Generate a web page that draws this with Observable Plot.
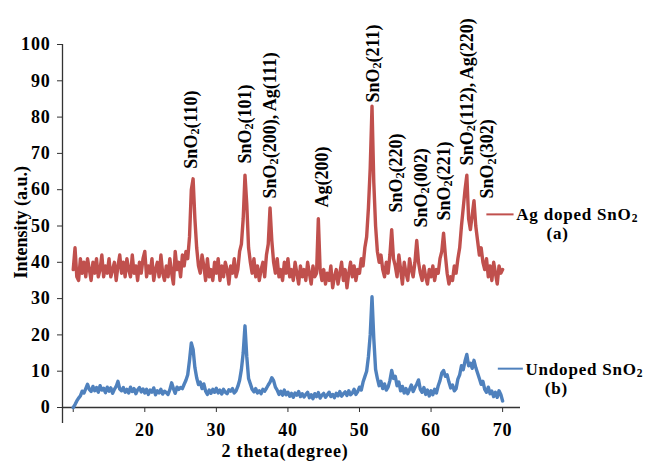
<!DOCTYPE html>
<html>
<head>
<meta charset="utf-8">
<script src="https://cdn.jsdelivr.net/npm/d3@7"></script>
<script src="https://cdn.jsdelivr.net/npm/@observablehq/plot@0.6"></script>
<style>
  html, body { margin: 0; padding: 0; background: #fff; }
  #chart svg { display: block; }
  #chart svg g[aria-label="y-axis tick label"] text,
  #chart svg g[aria-label="x-axis tick label"] text { letter-spacing: 0.8px; }
  #chart svg .wide text { letter-spacing: 0.8px; }
</style>
</head>
<body>
<div id="chart"></div>
<script>
// 2θ sampling grid of the scans (degrees)
const scanStart = 10.0;
const scanStep = 0.25;

// Ag doped SnO2 (a) – intensity, 10.00° … 70.00°
const agDoped = [
  38, 44, 36, 35, 41, 37, 40, 36, 41, 38, 35, 40, 37, 41, 36, 38, 42, 36, 39, 37,
  41, 36, 38, 40, 35, 39, 42, 37, 40, 36, 41, 38, 36, 42, 37, 39, 35, 40, 37, 41,
  43, 36, 39, 37, 41, 35, 38, 40, 36, 42, 37, 35, 39, 36, 41, 37, 34, 43, 38, 40,
  36, 42, 39, 43, 41, 47, 60, 63, 52, 44, 39, 37, 42, 39, 35, 41, 36, 38, 35, 40,
  37, 41, 35, 39, 36, 40, 38, 34, 39, 37, 41, 36, 38, 43, 45, 52, 64, 56, 44, 40,
  37, 41, 36, 39, 35, 38, 40, 36, 42, 45, 55, 46, 40, 37, 41, 36, 38, 35, 40, 37,
  41, 36, 38, 35, 40, 37, 34, 39, 36, 38, 35, 40, 37, 34, 39, 36, 37, 52, 38, 35,
  38, 34, 37, 35, 39, 33, 36, 38, 34, 37, 40, 35, 38, 33, 37, 40, 36, 39, 35, 38,
  37, 41, 39, 44, 47, 55, 66, 83, 62, 50, 43, 40, 42, 38, 36, 40, 37, 42, 49, 41,
  39, 36, 42, 38, 34, 40, 37, 35, 41, 38, 36, 40, 46, 40, 37, 35, 39, 36, 34, 38,
  36, 39, 35, 38, 37, 41, 43, 48, 42, 37, 34, 36, 35, 39, 37, 41, 44, 50, 55, 60,
  64, 52, 49, 53, 57, 50, 46, 42, 44, 40, 38, 41, 36, 39, 35, 40, 37, 34, 39, 37,
  38
];

// Undoped SnO2 (b) – intensity, 10.00° … 70.00°
const undoped = [
  0, 0.8, 1.8, 2.6, 3.2, 4.5, 4.0, 5.2, 6.4, 5.0, 4.4, 5.8, 4.6, 5.5, 4.2, 6.0, 4.8, 5.3, 4.1, 5.6,
  4.5, 5.4, 3.9, 5.0, 5.8, 7.2, 5.1, 4.6, 5.5, 4.2, 5.0, 4.0, 5.6, 4.4, 5.2, 3.8, 4.9, 5.5, 4.3, 5.1,
  4.0, 5.0, 3.6, 4.8, 4.2, 5.4, 3.5, 4.6, 4.0, 5.0, 3.7, 4.5, 4.1, 3.6, 4.9, 6.8, 5.2, 3.9, 5.6, 5.0,
  5.5, 5.2, 6.4, 7.5, 9.0, 13.0, 17.8, 16.0, 11.0, 8.2, 6.3, 7.0, 5.2, 6.5, 4.5, 3.6, 4.8, 3.9, 5.0, 4.2,
  5.3, 4.0, 4.8, 3.7, 5.0, 4.2, 3.8, 4.9, 4.5, 5.2, 4.0, 4.6, 5.8, 7.5, 10.5, 15.0, 22.5, 14.0, 8.0, 6.5,
  5.0, 4.3, 5.2, 4.0, 4.6, 3.8, 5.0, 4.5, 5.3, 6.2, 7.0, 8.2, 7.4, 5.6, 4.8, 3.6, 4.5, 3.4, 4.8, 3.5,
  4.2, 3.1, 3.9, 2.8, 4.0, 3.4, 4.4, 3.0, 3.8, 2.9, 3.6, 4.2, 2.7, 3.5, 2.4, 3.8, 3.0, 4.1, 2.6, 3.4,
  3.9, 2.8, 3.5, 4.2, 3.0, 3.6, 2.7, 3.9, 3.2, 4.4, 3.1, 3.8, 4.3, 3.3, 4.6, 3.5, 4.0, 5.0, 3.6, 4.4,
  5.6, 4.8, 7.0, 8.5, 10.0, 14.0, 20.0, 30.5, 19.0, 10.5, 8.0, 6.0, 7.2, 5.2, 6.5, 4.8, 5.6, 7.4, 10.2, 8.0,
  8.6, 6.0, 7.0, 4.6, 5.8, 4.0, 5.2, 3.8, 5.0, 6.2, 4.4, 5.5, 6.4, 7.6, 5.0, 4.2, 5.5, 3.6, 4.8, 3.2,
  4.6, 3.5, 5.0, 4.0, 6.0, 7.4, 9.5, 10.2, 8.6, 9.0, 7.0, 5.4, 6.2, 4.6, 5.2, 7.8, 9.0, 11.5, 10.4, 12.8,
  14.6, 11.5, 12.2, 10.8, 13.0, 11.0, 9.5, 8.0, 6.4, 7.2, 5.0, 4.2, 5.6, 3.8, 4.5, 3.0, 4.2, 2.8, 4.6, 3.6,
  1.8
];

// Peak annotations: label, 2θ position, intensity at the label's foot
const peakNames = ["SnO2(110)", "SnO2(101)", "SnO2(200), Ag(111)", "Ag(200)", "SnO2(211)",
                   "SnO2(220)", "SnO2(002)", "SnO2(221)", "SnO2(112), Ag(220)", "SnO2(302)"];
const peakTheta = [26.5, 34.0, 37.5, 44.8, 51.9, 55.1, 58.6, 61.8, 65.0, 67.9];
const peakLabelIntensity = [65.8, 67.2, 57.6, 55.1, 84.0, 53.7, 49.6, 51.5, 66.7, 57.6];

// Axis ticks
const xTicks = [10, 20, 30, 40, 50, 60, 70];
const xTickLabels = ["", "20", "30", "40", "50", "60", "70"];
const yTicks = [0, 10, 20, 30, 40, 50, 60, 70, 80, 90, 100];

// Series names
const seriesNames = ["Ag doped SnO2", "Undoped SnO2"];
const seriesTags = ["(a)", "(b)"];

const redRows = agDoped.map((v, i) => ({theta: scanStart + i * scanStep, I: v}));
const blueRows = undoped.map((v, i) => ({theta: scanStart + i * scanStep, I: v}));
const peaks = peakNames.map((n, i) => ({name: n, theta: peakTheta[i], I: peakLabelIntensity[i]}));

const RED = "#C0504D", BLUE = "#4F81BD", AXIS = "#333";
const font = "'Liberation Serif', 'Times New Roman', serif";

const plot = Plot.plot({
  width: 658,
  height: 462,
  marginLeft: 62,
  marginRight: 138,
  marginTop: 44,
  marginBottom: 55,
  x: {domain: [8.5, 72.5]},
  y: {domain: [0, 100]},
  style: {fontFamily: font, fontWeight: "bold", fontSize: "18px", color: "#000", background: "#fff"},
  marks: [
    Plot.axisY({ticks: yTicks, tickSize: 5, tickPadding: 7, label: null, stroke: AXIS, fontSize: 18}),
    Plot.axisX({ticks: xTicks, tickFormat: d => xTickLabels[xTicks.indexOf(d)], tickSize: 5, tickPadding: 11, label: null, stroke: AXIS, fontSize: 18}),
    Plot.ruleY([0], {stroke: AXIS, strokeWidth: 1.3}),
    Plot.ruleX([8.5], {y1: -4.4, y2: 100, stroke: AXIS, strokeWidth: 1.3}),
    Plot.line(redRows, {x: "theta", y: "I", stroke: RED, strokeWidth: 3.4}),
    Plot.line(blueRows, {x: "theta", y: "I", stroke: BLUE, strokeWidth: 3.4}),
    Plot.text(peaks, {x: "theta", y: "I", text: "name", rotate: -90, textAnchor: "start", lineAnchor: "middle", fontSize: 18, fill: "#000"}),
    // legend
    Plot.ruleY([53.2], {x1: 67.8, x2: 71.6, stroke: RED, strokeWidth: 2}),
    Plot.text([seriesNames[0]], {x: 71.9, y: 53.2, text: d => d, textAnchor: "start", fontSize: 17, fill: "#000", className: "wide"}),
    Plot.text([seriesTags[0]], {x: 77.7, y: 47.9, text: d => d, fontSize: 17, fill: "#000", className: "wide"}),
    Plot.ruleY([10.7], {x1: 69.4, x2: 72.9, stroke: BLUE, strokeWidth: 2}),
    Plot.text([seriesNames[1]], {x: 73.2, y: 10.4, text: d => d, textAnchor: "start", fontSize: 17, fill: "#000", className: "wide"}),
    Plot.text([seriesTags[1]], {x: 77.5, y: 5.3, text: d => d, fontSize: 17, fill: "#000", className: "wide"}),
    // axis titles
    Plot.text(["2 theta(degree)"], {x: 39.6, frameAnchor: "bottom", dy: 44, lineAnchor: "middle", textAnchor: "middle", text: d => d, fontSize: 18, fill: "#000", className: "wide"}),
    Plot.text(["Intensity (a.u.)"], {y: 51, frameAnchor: "left", dx: -41, textAnchor: "middle", lineAnchor: "middle", text: d => d, rotate: -90, fontSize: 18, fill: "#000"})
  ]
});

// render "SnO2" with a subscript 2
const NS = "http://www.w3.org/2000/svg";
plot.querySelectorAll("text").forEach(t => {
  if (t.children.length === 0 && t.textContent.includes("SnO2")) {
    const parts = t.textContent.split("SnO2");
    t.textContent = "";
    parts.forEach((p, i) => {
      if (i > 0) {
        const a = document.createElementNS(NS, "tspan");
        a.textContent = "SnO";
        t.appendChild(a);
        const s = document.createElementNS(NS, "tspan");
        s.textContent = "2";
        s.setAttribute("font-size", "68%");
        s.setAttribute("dy", "0.18em");
        t.appendChild(s);
        const r = document.createElementNS(NS, "tspan");
        r.textContent = p;
        r.setAttribute("dy", "-0.12em");
        t.appendChild(r);
      } else if (p) {
        const r = document.createElementNS(NS, "tspan");
        r.textContent = p;
        t.appendChild(r);
      }
    });
  }
});

document.getElementById("chart").appendChild(plot);
</script>
</body>
</html>
